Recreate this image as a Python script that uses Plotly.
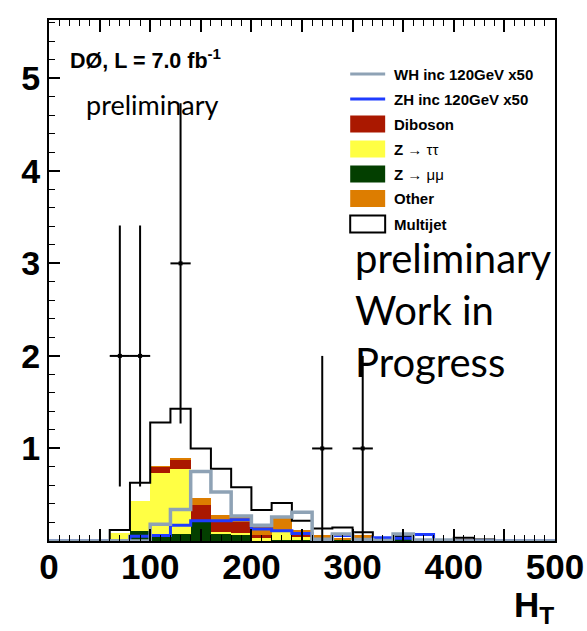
import plotly.graph_objects as go

# ---------------- data ----------------
bin_edges = list(range(0, 520, 20))          # 25 bins of 20 GeV, 0..500
bin_centers = [e + 10 for e in bin_edges[:-1]]

z_mumu   = [0, 0, 0, 0,    0.11, 0.05, 0.08, 0.20, 0.08, 0.07, 0.01, 0.01, 0.01, 0.005, 0.02, 0,    0, 0.02, 0, 0, 0,    0,     0, 0, 0]
z_tautau = [0, 0, 0, 0.09, 0.32, 0.69, 0.70, 0.03, 0.02, 0.02, 0.02, 0.09, 0.035, 0,    0,    0,    0, 0,    0, 0, 0,    0,     0, 0, 0]
diboson  = [0, 0, 0, 0,    0,    0.06, 0.10, 0.16, 0.11, 0.12, 0.04, 0.02, 0.02, 0,     0,    0,    0, 0,    0, 0, 0,    0,     0, 0, 0]
other    = [0, 0, 0, 0,    0,    0.01, 0.02, 0.08, 0.07, 0.06, 0.085,0.125,0.055,0.06,  0.01, 0.065,0, 0,    0, 0, 0.03, 0,     0, 0, 0]
multijet = [0, 0, 0, 0.03, 0.20, 0.47, 0.53, 0.53, 0.50, 0.31, 0.18, 0.165,0.10, 0.07,  0.115,0.03, 0, 0.03, 0, 0, 0.005,0.015, 0, 0, 0]
wh_x50   = [0, 0, 0, 0,    0,    0.18, 0.34, 0.75, 0.53, 0.27, 0.17, 0.26, 0.31, 0.02,  0.075,0.015,0.005,0.075,0.01,0.01,0, 0,   0, 0, 0]
zh_x50   = [0, 0, 0, 0,    0.05, 0.06, 0.17, 0.22, 0.22, 0.23, 0.13, 0.11, 0.08, 0.01,  0.06, 0,    0.035,0.03,0.07,0, 0,   0,     0, 0, 0]

data_x   = [70, 90, 130, 270, 310]
data_y   = [2, 2, 3, 1, 1]
data_err = [1.41, 1.41, 1.73, 1.0, 1.0]
data_xerr = [10, 10, 10, 10, 10]

x_ticks = [0, 50, 100, 150, 200, 250, 300, 350, 400, 450, 500]
x_ticktext = ["0", " ", "100", " ", "200", " ", "300", " ", "400", " ", "500"]
y_ticks = [0, 1, 2, 3, 4, 5]
y_ticktext = [" ", "1", "2", "3", "4", "5"]

colors = {
    "mumu": "#033f00",
    "tautau": "#ffff44",
    "diboson": "#aa1800",
    "other": "#dd7d00",
    "wh": "#8ea2b5",
    "zh": "#1f3cff",
}

# ---------------- geometry (pixels) ----------------
W, H = 587, 631
L, R, T, B = 48.5, 555, 20, 541


def px(xp):
    return (xp - L) / (R - L)


def py(yp):
    return (B - yp) / (B - T)


fig = go.Figure()

stack = [
    (z_mumu, colors["mumu"]),
    (z_tautau, colors["tautau"]),
    (diboson, colors["diboson"]),
    (other, colors["other"]),
    (multijet, "#ffffff"),
]
for vals, col in stack:
    fig.add_trace(go.Bar(x=bin_centers, y=vals, width=20, marker=dict(color=col, line=dict(width=0)),
                         showlegend=False, hoverinfo="skip"))

total = [a + b + c + d + e for a, b, c, d, e in zip(z_mumu, z_tautau, diboson, other, multijet)]


def step(vals):
    return bin_edges, vals + [vals[-1]]


sx, sy = step(total)
fig.add_trace(go.Scatter(x=sx, y=sy, mode="lines", line=dict(color="black", width=2, shape="hv"),
                         showlegend=False, hoverinfo="skip"))
sx, sy = step(zh_x50)
fig.add_trace(go.Scatter(x=sx, y=sy, mode="lines", line=dict(color=colors["zh"], width=3, shape="hv"),
                         showlegend=False, hoverinfo="skip"))
sx, sy = step(wh_x50)
fig.add_trace(go.Scatter(x=sx, y=sy, mode="lines", line=dict(color=colors["wh"], width=3.5, shape="hv"),
                         showlegend=False, hoverinfo="skip"))

fig.add_trace(go.Scatter(
    x=data_x, y=data_y, mode="markers",
    marker=dict(color="black", size=4, symbol="square"),
    error_y=dict(type="data", array=data_err, color="black", thickness=2, width=0),
    error_x=dict(type="data", array=data_xerr, color="black", thickness=2, width=0),
    showlegend=False, hoverinfo="skip"))

# ---------------- legend (manual) ----------------
shapes = []
annotations = []
sym_x0, sym_x1, text_x = 350, 385, 392
legend_lines = [("WH inc 120GeV x50", colors["wh"], 74), ("ZH inc 120GeV x50", colors["zh"], 99)]
for label, col, yc in legend_lines:
    shapes.append(dict(type="line", xref="paper", yref="paper", x0=px(sym_x0), x1=px(sym_x1),
                       y0=py(yc), y1=py(yc), line=dict(color=col, width=3)))
    annotations.append(dict(text="<b>%s</b>" % label, x=px(text_x), y=py(yc), xref="paper", yref="paper",
                            xanchor="left", yanchor="middle", showarrow=False,
                            font=dict(family="Liberation Sans", size=15, color="black")))
legend_boxes = [
    ("<b>Diboson</b>", colors["diboson"], 124, None),
    ("<b>Z</b> → ττ", colors["tautau"], 149, None),
    ("<b>Z</b> → μμ", colors["mumu"], 174, None),
    ("<b>Other</b>", colors["other"], 198.5, None),
    ("<b>Multijet</b>", "#ffffff", 224, "black"),
]
for label, col, yc, lc in legend_boxes:
    shapes.append(dict(type="rect", xref="paper", yref="paper", x0=px(sym_x0), x1=px(sym_x1),
                       y0=py(yc - 8.5), y1=py(yc + 8.5), fillcolor=col,
                       line=dict(color=lc if lc else col, width=2 if lc else 0)))
    annotations.append(dict(text=label, x=px(text_x), y=py(yc), xref="paper", yref="paper",
                            xanchor="left", yanchor="middle", showarrow=False,
                            font=dict(family="Liberation Sans", size=15, color="black")))

# ---------------- texts ----------------
annotations.append(dict(text="<b>DØ, L = 7.0 fb<sup>-1</sup></b>", x=px(68), y=py(59), xref="paper", yref="paper",
                        xanchor="left", yanchor="middle", showarrow=False,
                        font=dict(family="Liberation Sans", size=21.5, color="black")))
annotations.append(dict(text="preliminary", x=px(84), y=py(104), xref="paper", yref="paper",
                        xanchor="left", yanchor="middle", showarrow=False,
                        font=dict(family="Lato", size=27, color="black")))
annotations.append(dict(text="preliminary<br>Work in<br>Progress", x=px(353), y=py(310), xref="paper", yref="paper",
                        xanchor="left", yanchor="middle", align="left", showarrow=False,
                        font=dict(family="Lato", size=40, color="black")))
annotations.append(dict(text="<b>H<sub>T</sub></b>", x=px(556), y=py(607), xref="paper", yref="paper",
                        xanchor="right", yanchor="middle", showarrow=False,
                        font=dict(family="Liberation Sans", size=35, color="black")))

fig.update_layout(
    width=W, height=H,
    margin=dict(l=L, r=W - R, t=T, b=H - B, autoexpand=False),
    paper_bgcolor="white", plot_bgcolor="white",
    barmode="stack", bargap=0,
    shapes=shapes, annotations=annotations,
    showlegend=False,
)
fig.update_xaxes(
    range=[0, 500], tickmode="array", tickvals=x_ticks, ticktext=x_ticktext,
    ticks="inside", ticklen=12, tickwidth=1.5, tickcolor="black",
    minor=dict(dtick=10, ticks="inside", ticklen=6, tickwidth=1.2, tickcolor="black"),
    showline=True, linecolor="black", linewidth=2, mirror="allticks",
    showgrid=False, zeroline=False,
    tickfont=dict(family="Liberation Sans", size=35, color="black", weight="bold"),
    ticklabelstandoff=-6, automargin=False,
)
fig.update_yaxes(
    range=[0, 5.63], tickmode="array", tickvals=y_ticks, ticktext=y_ticktext,
    ticks="inside", ticklen=11, tickwidth=1.5, tickcolor="black",
    minor=dict(dtick=0.2, ticks="inside", ticklen=6, tickwidth=1.2, tickcolor="black"),
    showline=True, linecolor="black", linewidth=2, mirror=True,
    showgrid=False, zeroline=False,
    tickfont=dict(family="Liberation Sans", size=34, color="black", weight="bold"),
    ticklabelstandoff=0, automargin=False,
)

fig.write_html("out.html")
